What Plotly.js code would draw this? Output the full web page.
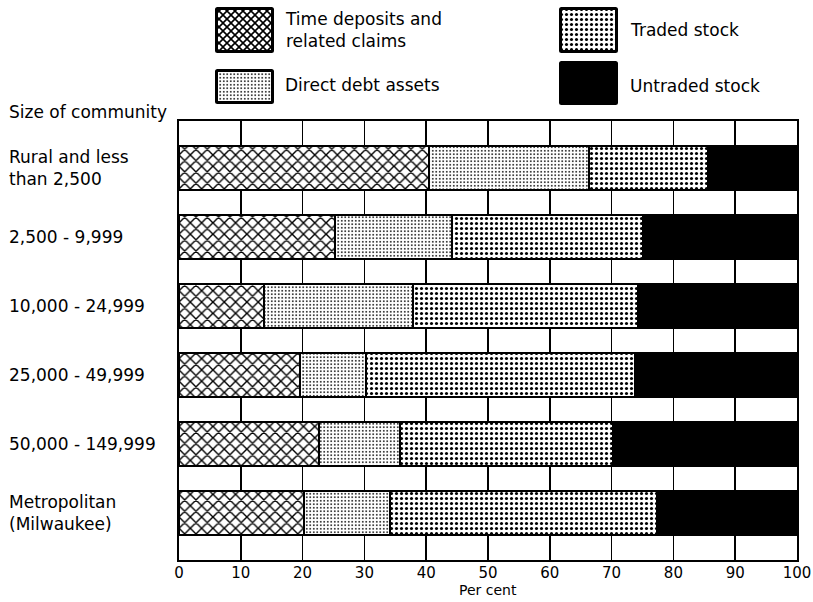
<!DOCTYPE html>
<html>
<head>
<meta charset="utf-8">
<script src="https://cdn.plot.ly/plotly-3.0.1.min.js"></script>
<style>
  html, body { margin: 0; padding: 0; background: #fff; }
  #chart { width: 813px; height: 602px; }
</style>
</head>
<body>
<div id="chart"></div>
<script>
// ---- Data ----
const categories = [
  "Rural and less than 2,500",
  "2,500 - 9,999",
  "10,000 - 24,999",
  "25,000 - 49,999",
  "50,000 - 149,999",
  "Metropolitan (Milwaukee)"
];
const categoryLabels = [
  "Rural and less<br>than 2,500",
  "2,500 - 9,999",
  "10,000 - 24,999",
  "25,000 - 49,999",
  "50,000 - 149,999",
  "Metropolitan<br>(Milwaukee)"
];
const seriesNames = [
  "Time deposits and related claims",
  "Direct debt assets",
  "Traded stock",
  "Untraded stock"
];
const timeDeposits = [40.4, 25.2, 13.8, 19.5, 22.6, 20.3];
const directDebt   = [26.0, 19.0, 24.0, 10.8, 13.2, 13.8];
const tradedStock  = [19.2, 30.9, 36.5, 43.5, 34.4, 43.2];
const untradedStock = [14.4, 24.9, 25.7, 26.2, 29.8, 22.7];
const xTicks = [0, 10, 20, 30, 40, 50, 60, 70, 80, 90, 100];
const xTitle = "Per cent";
const yTitle = "Size of community";

// ---- Styles ----
const FONT = "DejaVu Sans";
const patterns = [
  {shape: "x", size: 8, solidity: 0.32, fgcolor: "#000", bgcolor: "#fff"},
  {shape: ".", size: 3.5, solidity: 0.2, fgcolor: "#000", bgcolor: "#fff"},
  {shape: ".", size: 5, solidity: 0.3, fgcolor: "#000", bgcolor: "#fff"},
  null
];
const seriesValues = [timeDeposits, directDebt, tradedStock, untradedStock];

const traces = seriesValues.map((vals, i) => {
  const marker = {
    color: patterns[i] ? "#fff" : "#000",
    line: {color: "#000", width: 2}
  };
  if (patterns[i]) marker.pattern = patterns[i];
  return {
    type: "bar",
    orientation: "h",
    name: seriesNames[i],
    x: vals,
    y: categories,
    marker: marker,
    hoverinfo: "name+x"
  };
});

// ---- Legend swatches as SVG images ----
function swatchSVG(i, w, h) {
  const p = patterns[i];
  let defs = "", fill = "#000";
  if (p) {
    const s = p.size;
    let content;
    if (p.shape === "x") {
      content = `<path d="M0,0L${s},${s}M${s},0L0,${s}" stroke="#000" stroke-width="1.6"/>`;
    } else {
      const r = Math.sqrt(p.solidity * s * s / Math.PI);
      content = `<circle cx="${s/2}" cy="${s/2}" r="${r}" fill="#000"/>`;
    }
    defs = `<defs><pattern id="p" width="${s}" height="${s}" patternUnits="userSpaceOnUse"><rect width="${s}" height="${s}" fill="#fff"/>${content}</pattern></defs>`;
    fill = "url(#p)";
  }
  const svg = `<svg xmlns="http://www.w3.org/2000/svg" width="${w}" height="${h}" viewBox="0 0 ${w} ${h}">${defs}<rect x="1.5" y="1.5" width="${w-3}" height="${h-3}" fill="${fill}" stroke="#000" stroke-width="3" rx="1"/></svg>`;
  return "data:image/svg+xml;charset=utf-8," + encodeURIComponent(svg);
}

// plot area in px: x 179..797, y 121..560
const PX0 = 179, PW = 618, PYB = 560, PH = 439;
const px2x = px => (px - PX0) / PW;
const px2y = py => (PYB - py) / PH;

const legendBoxes = [
  {i: 0, x: 215, y: 7,  w: 59, h: 46, tx: 283, ty: 30},
  {i: 1, x: 215, y: 69, w: 59, h: 35, tx: 283, ty: 85},
  {i: 2, x: 559, y: 7,  w: 59, h: 46, tx: 628, ty: 30},
  {i: 3, x: 559, y: 61, w: 59, h: 44, tx: 628, ty: 86}
];
const legendText = [
  "Time deposits and<br>related claims",
  "Direct debt assets",
  "Traded stock",
  "Untraded stock"
];

const images = legendBoxes.map(b => ({
  source: swatchSVG(b.i, b.w, b.h),
  xref: "paper", yref: "paper",
  x: px2x(b.x), y: px2y(b.y),
  sizex: b.w / PW, sizey: b.h / PH,
  xanchor: "left", yanchor: "top",
  sizing: "stretch", layer: "above"
}));

const annotations = [];
legendBoxes.forEach((b, k) => {
  annotations.push({
    xref: "paper", yref: "paper",
    x: px2x(b.tx), y: px2y(b.ty),
    xanchor: "left", yanchor: "middle", align: "left",
    text: legendText[k], showarrow: false,
    font: {family: FONT, size: 17, color: "#000"}
  });
});
categories.forEach((c, k) => {
  annotations.push({
    xref: "paper", yref: "y",
    x: px2x(7), y: c,
    xanchor: "left", yanchor: "middle", align: "left",
    text: categoryLabels[k], showarrow: false,
    font: {family: FONT, size: 17, color: "#000"}
  });
});
annotations.push({
  xref: "paper", yref: "paper",
  x: px2x(7), y: px2y(112),
  xanchor: "left", yanchor: "middle", align: "left",
  text: yTitle, showarrow: false,
  font: {family: FONT, size: 17, color: "#000"}
});
// x-axis title placed just below the tick labels
annotations.push({
  xref: "paper", yref: "paper",
  x: 0.5, y: px2y(590),
  xanchor: "center", yanchor: "middle",
  text: xTitle, showarrow: false,
  font: {family: FONT, size: 14, color: "#000"}
});

const layout = {
  width: 813, height: 602,
  margin: {l: 179, r: 16, t: 121, b: 42, pad: 0},
  paper_bgcolor: "#fff", plot_bgcolor: "#fff",
  barmode: "stack",
  bargap: 0.36,
  showlegend: false,
  font: {family: FONT, size: 16, color: "#000"},
  xaxis: {
    range: [0, 100],
    tickvals: xTicks,
    ticktext: xTicks.map(String),
    ticks: "",
    ticklabelstandoff: -2,
    showgrid: true, gridcolor: "#000", gridwidth: 1.5,
    showline: true, linecolor: "#000", linewidth: 2, mirror: true,
    zeroline: false,
    tickfont: {family: FONT, size: 15, color: "#000"}
  },
  yaxis: {
    type: "category",
    categoryorder: "array", categoryarray: categories,
    range: [5.68, -0.68],
    showticklabels: false, ticks: "",
    showgrid: false, zeroline: false,
    showline: true, linecolor: "#000", linewidth: 2, mirror: true
  },
  images: images,
  annotations: annotations
};

Plotly.newPlot("chart", traces, layout, {displayModeBar: false, staticPlot: true});
</script>
</body>
</html>
